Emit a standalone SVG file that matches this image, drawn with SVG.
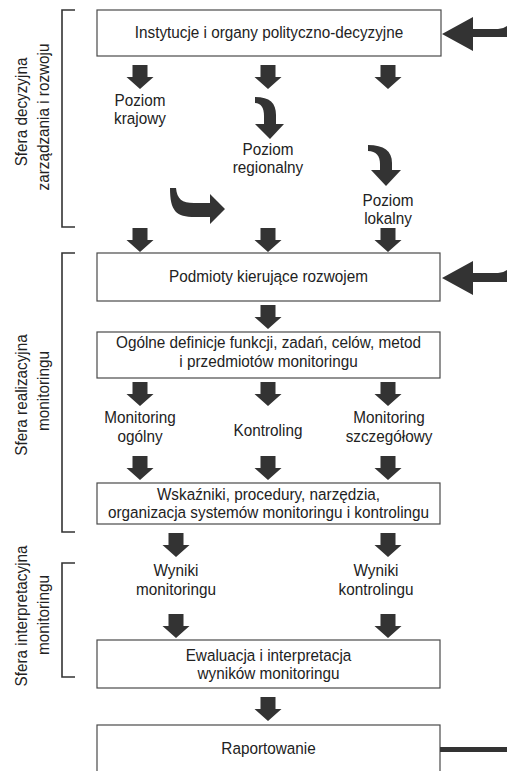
<svg xmlns="http://www.w3.org/2000/svg" xmlns:xlink="http://www.w3.org/1999/xlink" width="507" height="771" viewBox="0 0 507 771">
  <style>
    .box { fill: #ffffff; stroke: #4a4a4a; stroke-width: 1.2; }
    .br { fill: none; stroke: #333333; stroke-width: 1.6; }
    .ar { fill: #333333; }
    text { font-family: "Liberation Sans", Arial, sans-serif; font-size: 17px; fill: #222222; text-anchor: middle; }
  </style>
  <defs>
    <!-- straight block arrow pointing down, origin at top centre -->
    <path id="dn" d="M-7.5,0 H7.5 V12 H13.5 L0,24 L-13.5,12 H-7.5 Z"/>
  </defs>

  <rect x="0" y="0" width="507" height="771" fill="#ffffff"/>

  <!-- side brackets with rotated titles (narrowed type) -->
  <g id="sfera-decyzyjna">
    <path class="br" d="M75,10 H62 V227 H75"/>
    <text transform="translate(27,112) rotate(-90) scale(0.9,1)">Sfera decyzyjna</text>
    <text transform="translate(49,117) rotate(-90) scale(0.9,1)">zarządzania i rozwoju</text>
  </g>
  <g id="sfera-realizacyjna">
    <path class="br" d="M75,253 H62 V532 H75"/>
    <text transform="translate(27,395) rotate(-90) scale(0.9,1)">Sfera realizacyjna</text>
    <text transform="translate(49,391) rotate(-90) scale(0.9,1)">monitoringu</text>
  </g>
  <g id="sfera-interpretacyjna">
    <path class="br" d="M75,563 H62 V677 H75"/>
    <text transform="translate(27,616) rotate(-90) scale(0.9,1)">Sfera interpretacyjna</text>
    <text transform="translate(49,615) rotate(-90) scale(0.9,1)">monitoringu</text>
  </g>

  <!-- boxes -->
  <g id="instytucje">
    <rect class="box" x="97" y="10" width="344" height="46"/>
    <text transform="translate(269,38) scale(0.9,1)">Instytucje i organy polityczno-decyzyjne</text>
  </g>
  <g id="podmioty">
    <rect class="box" x="97" y="253" width="343" height="48"/>
    <text transform="translate(268.5,282) scale(0.9,1)">Podmioty kierujące rozwojem</text>
  </g>
  <g id="definicje">
    <rect class="box" x="97" y="332" width="343" height="46"/>
    <text transform="translate(268.5,348) scale(0.9,1)">Ogólne definicje funkcji, zadań, celów, metod</text>
    <text transform="translate(268.5,367) scale(0.9,1)">i przedmiotów monitoringu</text>
  </g>
  <g id="wskazniki">
    <rect class="box" x="97" y="483" width="343" height="41"/>
    <text transform="translate(268.5,500) scale(0.9,1)">Wskaźniki, procedury, narzędzia,</text>
    <text transform="translate(268.5,518) scale(0.9,1)">organizacja systemów monitoringu i kontrolingu</text>
  </g>
  <g id="ewaluacja">
    <rect class="box" x="97" y="640" width="343" height="48"/>
    <text transform="translate(268.5,661) scale(0.9,1)">Ewaluacja i interpretacja</text>
    <text transform="translate(268.5,679) scale(0.9,1)">wyników monitoringu</text>
  </g>
  <g id="raportowanie">
    <rect class="box" x="97" y="725" width="343" height="60"/>
    <text transform="translate(268.5,754) scale(0.9,1)">Raportowanie</text>
  </g>

  <!-- free labels -->
  <g id="poziom-krajowy">
    <text transform="translate(140,106) scale(0.9,1)">Poziom</text>
    <text transform="translate(140,124) scale(0.9,1)">krajowy</text>
  </g>
  <g id="poziom-regionalny">
    <text transform="translate(268,155) scale(0.9,1)">Poziom</text>
    <text transform="translate(268,173) scale(0.9,1)">regionalny</text>
  </g>
  <g id="poziom-lokalny">
    <text transform="translate(388,206) scale(0.9,1)">Poziom</text>
    <text transform="translate(388,224) scale(0.9,1)">lokalny</text>
  </g>
  <g id="monitoring-ogolny">
    <text transform="translate(140,423) scale(0.9,1)">Monitoring</text>
    <text transform="translate(140,442) scale(0.9,1)">ogólny</text>
  </g>
  <g id="kontroling">
    <text transform="translate(268,436) scale(0.9,1)">Kontroling</text>
  </g>
  <g id="monitoring-szczegolowy">
    <text transform="translate(389,423) scale(0.9,1)">Monitoring</text>
    <text transform="translate(389,442) scale(0.9,1)">szczegółowy</text>
  </g>
  <g id="wyniki-monitoringu">
    <text transform="translate(176,576) scale(0.9,1)">Wyniki</text>
    <text transform="translate(176,595) scale(0.9,1)">monitoringu</text>
  </g>
  <g id="wyniki-kontrolingu">
    <text transform="translate(376,576) scale(0.9,1)">Wyniki</text>
    <text transform="translate(376,595) scale(0.9,1)">kontrolingu</text>
  </g>

  <!-- connectors -->
  <g id="connectors" class="ar">
    <use xlink:href="#dn" href="#dn" x="140" y="65"/>
    <use xlink:href="#dn" href="#dn" x="268" y="65"/>
    <use xlink:href="#dn" href="#dn" x="388" y="65"/>

    <!-- curved arrows between levels -->
    <path d="M255,97 C270,97 276,103 276,115 V124 H284 L270,139 L255,124 H264 V116 C264,108 261,103 255,103 Z"/>
    <path d="M368,145 C384,145 392,151 392,163 V170 H401 L386,186 L371,170 H380 V164 C380,156 376,151 368,151 Z"/>
    <path d="M170,188 C170,211 176,217 195,217 H210 V224 L225,209 L210,194 V203 H194 C182,203 177,199 176,188 Z"/>

    <use xlink:href="#dn" href="#dn" x="140" y="228"/>
    <use xlink:href="#dn" href="#dn" x="268" y="228"/>
    <use xlink:href="#dn" href="#dn" x="388" y="228"/>

    <use xlink:href="#dn" href="#dn" x="268" y="305"/>

    <use xlink:href="#dn" href="#dn" x="140" y="382"/>
    <use xlink:href="#dn" href="#dn" x="268" y="382"/>
    <use xlink:href="#dn" href="#dn" x="388" y="382"/>

    <use xlink:href="#dn" href="#dn" x="140" y="456"/>
    <use xlink:href="#dn" href="#dn" x="268" y="456"/>
    <use xlink:href="#dn" href="#dn" x="388" y="456"/>

    <use xlink:href="#dn" href="#dn" x="176" y="533"/>
    <use xlink:href="#dn" href="#dn" x="388" y="533"/>
    <use xlink:href="#dn" href="#dn" x="176" y="614"/>
    <use xlink:href="#dn" href="#dn" x="388" y="614"/>

    <use xlink:href="#dn" href="#dn" x="268" y="697"/>

    <!-- feedback inputs from the right -->
    <path d="M442,34 L473,17 V29 H498 Q503,29 507,26 V37 H473 V51 Z"/>
    <path d="M442,278 L473,261 V273 H498 Q503,273 507,270 V282 H473 V295 Z"/>
    <rect x="440" y="747" width="67" height="5"/>
  </g>
</svg>
